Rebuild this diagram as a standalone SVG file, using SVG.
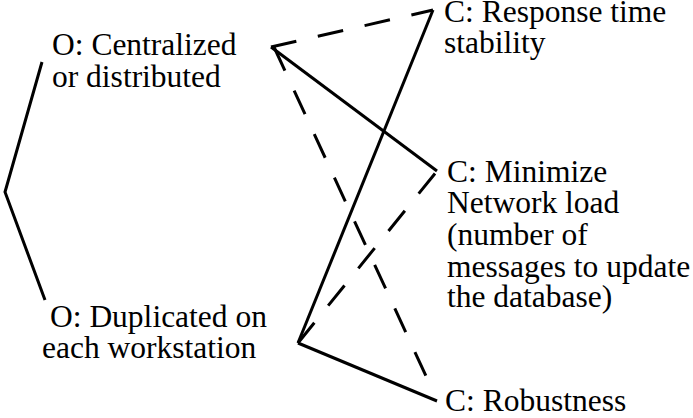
<svg xmlns="http://www.w3.org/2000/svg" width="693" height="418" viewBox="0 0 693 418">
  <style>
    .lbl { font-family: 'Liberation Serif', 'Times New Roman', serif; font-size: 31.5px; fill: #000; }
    .link { fill: none; stroke: #000; stroke-width: 3; stroke-linecap: butt; }
    .dash { stroke-dasharray: 26 22; }
  </style>
  <rect width="693" height="418" fill="#fff"/>

  <!-- connectors between options and criteria -->
  <g id="connectors">
    <polyline class="link" points="42,62 5,192 45,300"/>
    <line class="link" x1="271" y1="47" x2="437" y2="171"/>
    <line class="link dash" x1="271" y1="47" x2="433" y2="10"/>
    <line class="link dash" x1="274" y1="47" x2="426" y2="376"/>
    <line class="link" x1="298" y1="343" x2="433" y2="10"/>
    <line class="link dash" x1="298" y1="343" x2="437" y2="171"/>
    <line class="link" x1="298" y1="343" x2="437" y2="401"/>
  </g>

  <g class="lbl">
    <g id="opt-centralized">
      <text x="52" y="55">O: Centralized</text>
      <text x="52" y="87">or distributed</text>
    </g>
    <g id="opt-duplicated">
      <text x="50" y="327">O: Duplicated on</text>
      <text x="42" y="358">each workstation</text>
    </g>
    <g id="crit-response">
      <text x="444" y="22">C: Response time</text>
      <text x="444" y="53">stability</text>
    </g>
    <g id="crit-network">
      <text x="447" y="182">C: Minimize</text>
      <text x="447" y="213">Network load</text>
      <text x="447" y="245">(number of</text>
      <text x="447" y="277">messages to update</text>
      <text x="447" y="307">the database)</text>
    </g>
    <g id="crit-robustness">
      <text x="445" y="411">C: Robustness</text>
    </g>
  </g>
</svg>
